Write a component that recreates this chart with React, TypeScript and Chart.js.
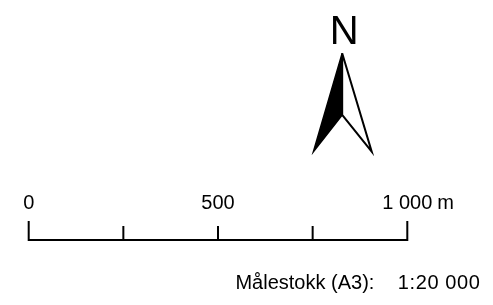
import React, { useEffect, useRef } from "react";
import { Chart, registerables } from "chart.js";

Chart.register(...registerables);

// Scale bar data (metres)
const tickValues = [0, 250, 500, 750, 1000];
const labelValues = [0, 500, 1000];
const labelTexts = ["0", "500", "1 000"];
const unitText = "m";
const scaleCaption = "Målestokk (A3):";
const scaleRatio = "1:20 000";
const northLabel = "N";

const FONT = '"Liberation Sans", Arial, sans-serif';

export default function App() {
  const ref = useRef<HTMLCanvasElement | null>(null);

  useEffect(() => {
    document.body.style.margin = "0";
    const canvas = ref.current;
    if (!canvas) return;

    const first = tickValues[0];
    const last = tickValues[tickValues.length - 1];
    const endTickH = 19;
    const midTickH = 14;

    // north arrow geometry, expressed in the chart's own units
    const tip = { x: 828, y: 186.7 };
    const leftFoot = { x: 752, y: 88.3 };
    const rightFoot = { x: 906, y: 88.3 };
    const notch = { x: 828, y: 125 };

    const datasets: any[] = [
      {
        data: [
          { x: first, y: endTickH },
          { x: first, y: 0 },
          { x: last, y: 0 },
          { x: last, y: endTickH },
        ],
        borderColor: "#000",
        borderWidth: 2,
        borderJoinStyle: "miter",
        borderCapStyle: "butt",
      },
      ...tickValues.slice(1, -1).map((v) => ({
        data: [
          { x: v, y: 0 },
          { x: v, y: midTickH },
        ],
        borderColor: "#000",
        borderWidth: 2,
        borderCapStyle: "butt",
      })),
      {
        data: [tip, leftFoot, notch, tip],
        borderColor: "#000",
        backgroundColor: "#000",
        borderWidth: 1.5,
        borderJoinStyle: "miter",
        fill: "shape",
      },
      {
        data: [tip, rightFoot, notch, tip],
        borderColor: "#000",
        borderWidth: 2,
        borderJoinStyle: "miter",
        fill: false,
      },
    ].map((d) => ({
      showLine: true,
      pointRadius: 0,
      pointHoverRadius: 0,
      tension: 0,
      clip: false,
      ...d,
    }));

    const textPlugin = {
      id: "scaleText",
      afterDraw(chart: any) {
        const { ctx } = chart;
        const xs = chart.scales.x;
        const ys = chart.scales.y;
        ctx.save();
        ctx.fillStyle = "#000";
        ctx.textBaseline = "alphabetic";
        ctx.font = `20px ${FONT}`;
        ctx.textAlign = "center";
        const labelY = ys.getPixelForValue(31);
        labelValues.forEach((v, i) => {
          ctx.fillText(labelTexts[i], xs.getPixelForValue(v), labelY);
        });
        ctx.textAlign = "left";
        ctx.fillText(unitText, xs.getPixelForValue(last) + 30, labelY);

        // caption
        const capY = ys.getPixelForValue(-49);
        ctx.textAlign = "left";
        ctx.fillText(scaleCaption, xs.getPixelForValue(550) - 1.5, capY);
        (ctx as any).letterSpacing = "0.6px";
        ctx.fillText(scaleRatio, xs.getPixelForValue(975), capY);
        (ctx as any).letterSpacing = "0px";

        // north label
        ctx.font = `40px ${FONT}`;
        ctx.textAlign = "center";
        ctx.fillText(northLabel, xs.getPixelForValue(tip.x) + 2, ys.getPixelForValue(196));
        ctx.restore();
      },
    };

    const chart = new Chart(canvas, {
      type: "scatter",
      data: { datasets },
      options: {
        animation: false,
        responsive: false,
        devicePixelRatio: 1,
        layout: { padding: { left: 28.7, right: 85.7, top: 0, bottom: 0 } },
        plugins: { legend: { display: false }, tooltip: { enabled: false } },
        events: [],
        scales: {
          x: { type: "linear", min: first, max: last, display: false },
          y: { type: "linear", min: -65, max: 240, display: false },
        },
      },
      plugins: [textPlugin],
    });
    return () => chart.destroy();
  }, []);

  return (
    <div style={{ width: 493, height: 305, background: "#fff" }}>
      <canvas ref={ref} width={493} height={305} style={{ display: "block" }} />
    </div>
  );
}
